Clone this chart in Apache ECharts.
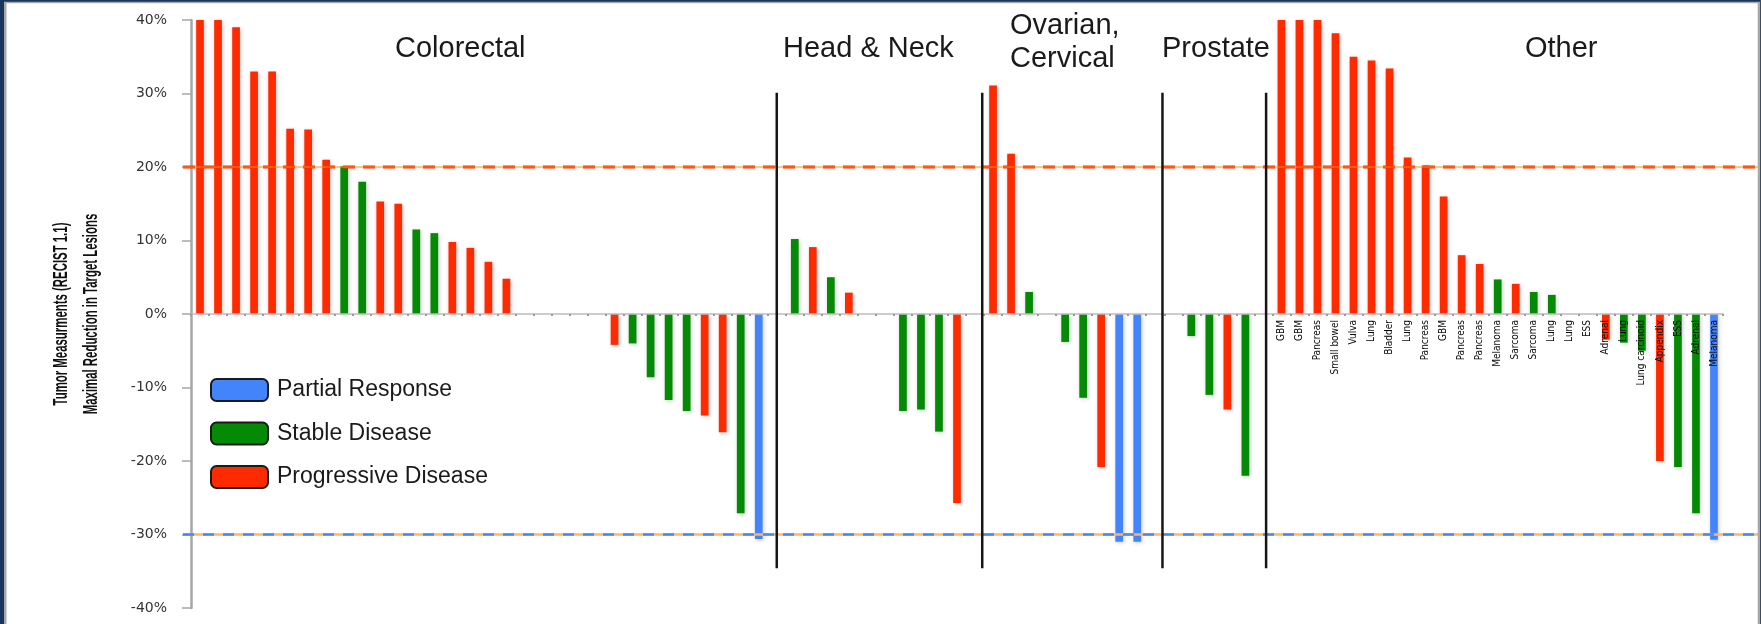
<!DOCTYPE html>
<html>
<head>
<meta charset="utf-8">
<script src="https://cdn.jsdelivr.net/npm/echarts@6/dist/echarts.min.js"></script>
<style>
html,body{margin:0;padding:0;background:#fff;}
#chart{width:1761px;height:624px;}
</style>
</head>
<body>
<div id="chart"></div>
<script>
// ---- Data (percent change in target lesions) ----
// Response codes: R = Progressive Disease, S = Stable Disease, P = Partial Response, '-' = empty slot
const colorectalValues = [40, 40, 39, 33, 33, 25.2, 25.1, 21, 20.1, 18, 15.3, 15, 11.5, 11, 9.8, 9, 7.1, 4.8,
  null, null, null, null, null,
  -4.2, -4.0, -8.6, -11.7, -13.2, -13.8, -16.1, -27.1, -30.6];
const colorectalResponse = 'RRRRRRRRSSRRSSRRRR-----RSSSSRRSP';

const headNeckValues = [10.2, 9.1, 5.0, 2.9, null, null, -13.2, -13.0, -16.0, -25.7];
const headNeckResponse = 'SRSR--SSSR';

const ovarianValues = [31.1, 21.8, 3.0, null, -3.8, -11.4, -20.8, -31.0, -31.0];
const ovarianResponse = 'RRS-SSRPP';

const prostateValues = [-3.0, -11.0, -13.0, -22.0];
const prostateResponse = 'SSRS';

const otherCategories = ['GBM', 'GBM', 'Pancreas', 'Small bowel', 'Vulva', 'Lung', 'Bladder', 'Lung', 'Pancreas', 'GBM',
  'Pancreas', 'Pancreas', 'Melanoma', 'Sarcoma', 'Sarcoma', 'Lung', 'Lung', 'ESS', 'Adrenal', 'Lung',
  'Lung carcinoid', 'Appendix', 'ESS', 'Adrenal', 'Melanoma'];
const otherValues = [40, 40, 40, 38.2, 35.0, 34.5, 33.4, 21.3, 20.2, 16.0,
  8.0, 6.8, 4.7, 4.1, 3.0, 2.6, 0, 0, -3.5, -3.9,
  -5.0, -20.0, -20.8, -27.1, -30.7];
const otherResponse = 'RRRRRRRRRRRRSRSS--RSSRSSP';

const groupTitles = ['Colorectal', 'Head & Neck', 'Ovarian,\nCervical', 'Prostate', 'Other'];
const yTicks = [-40, -30, -20, -10, 0, 10, 20, 30, 40];
const yAxisTitle = ['Tumor Measurments (RECIST 1.1)', 'Maximal Reduction in Target Lesions'];
const thresholds = { progression: 20, response: -30 };
const seriesNames = ['Partial Response', 'Stable Disease', 'Progressive Disease'];
const seriesCodes = ['P', 'S', 'R'];

// ---- Build the full category axis (separator slots between groups) ----
const emptyLabels = n => new Array(n).fill('');
const values = [].concat(colorectalValues, [null], headNeckValues, [null], ovarianValues, [null, null], prostateValues, [null], otherValues);
const responses = (colorectalResponse + '-' + headNeckResponse + '-' + ovarianResponse + '--' + prostateResponse + '-' + otherResponse).split('');
const categories = [].concat(emptyLabels(values.length - otherValues.length), otherCategories);

// ---- Layout / style ----
const colors = { P: '#4484fa', S: '#048a04', R: '#ff2a00' };
const dividerAt = [32, 43.4, 53.4, 59.15];   // positions on the category scale
const dividerSpan = [30.1, -34.6];             // vertical extent in axis units
const gridTop = 20, gridBottom = 16, H = 624, W = 1761;
const zeroOffset = -(H - gridTop - gridBottom) / 2;  // moves the category axis up to the 0% line

const chart = echarts.init(document.getElementById('chart'), null, { renderer: 'canvas' });

const narrow = "'Liberation Sans Narrow', 'DejaVu Sans Condensed', 'Liberation Sans', sans-serif";
const sans = "'Liberation Sans', Arial, sans-serif";

const titles = [
  { text: groupTitles[0], left: 395, top: 32 },
  { text: groupTitles[1], left: 783, top: 32 },
  { text: groupTitles[2], left: 1010, top: 9 },
  { text: groupTitles[3], left: 1162, top: 32 },
  { text: groupTitles[4], left: 1525, top: 32 }
].map(t => Object.assign(t, {
  padding: 0,
  textStyle: { fontFamily: sans, fontSize: 29, fontWeight: 'normal', color: '#1a1a1a', lineHeight: 33 }
}));

const series = seriesNames.map((name, k) => ({
  name: name,
  type: 'bar',
  xAxisIndex: 0,
  yAxisIndex: 0,
  barWidth: 7.7,
  barGap: '-100%',
  itemStyle: {
    color: colors[seriesCodes[k]],
    shadowBlur: 4,
    shadowColor: 'rgba(0,0,0,0.22)',
    shadowOffsetX: 1,
    shadowOffsetY: 1
  },
  emphasis: { disabled: true },
  data: values.map((v, i) => responses[i] === seriesCodes[k] ? v : null)
}));

series.push({
  type: 'scatter', xAxisIndex: 1, yAxisIndex: 0, symbolSize: 0, silent: true,
  data: [[0, 0]]
});

chart.setOption({
  animation: false,
  backgroundColor: '#ffffff',
  title: titles,
  grid: { left: 191, right: 38, top: gridTop, bottom: gridBottom, containLabel: false, outerBoundsMode: 'none' },
  legend: {
    orient: 'vertical',
    left: 210,
    top: 378,
    padding: 0,
    itemWidth: 57,
    itemHeight: 22,
    itemGap: 19.5,
    icon: 'roundRect',
    itemStyle: { borderColor: '#1a1a1a', borderWidth: 2 },
    textStyle: { fontFamily: sans, fontSize: 23, color: '#1a1a1a', padding: [0, 0, 0, 4] },
    data: seriesNames
  },
  xAxis: [{
    type: 'category',
    data: categories,
    offset: zeroOffset,
    z: 10,
    axisLine: { onZero: false, lineStyle: { color: '#bdbdbd', width: 1.7 } },
    axisTick: { show: true, interval: 0, length: 2, lineStyle: { color: '#9a9a9a', width: 2 } },
    axisLabel: { interval: 0, rotate: 90, margin: 6, fontFamily: narrow, fontSize: 10, color: '#0a0a0a' },
    splitLine: { show: false }
  }, {
    type: 'value', min: -0.5, max: values.length - 0.5, show: false
  }],
  yAxis: {
    type: 'value',
    min: yTicks[0],
    max: yTicks[yTicks.length - 1],
    interval: 10,
    axisLine: { show: true, onZero: false, lineStyle: { color: '#a6a6a6', width: 2.5 } },
    axisTick: { show: true, length: 9, lineStyle: { color: '#a6a6a6', width: 1.5 } },
    axisLabel: { formatter: '{value}%', margin: 24, fontFamily: "'DejaVu Sans', sans-serif", fontSize: 14, color: '#333' },
    splitLine: { show: false }
  },
  series: series
});

// ---- Decorations positioned through the axes ----
const px = v => chart.convertToPixel({ xAxisIndex: 1 }, v);
const py = v => chart.convertToPixel({ yAxisIndex: 0 }, v);
const xStart = px(-0.5) - 8;
const yProg = py(thresholds.progression);
const yResp = py(thresholds.response);
const yMid = (py(yTicks[0]) + py(yTicks[yTicks.length - 1])) / 2;

const graphics = [];
graphics.push({ type: 'line', z: 50, shape: { x1: xStart, y1: yProg, x2: W, y2: yProg }, style: { stroke: '#ff2a00', lineWidth: 3, lineDash: [12, 8] } });
graphics.push({ type: 'line', z: 51, shape: { x1: xStart, y1: yProg, x2: W, y2: yProg }, style: { stroke: '#ff8a12', lineWidth: 1 } });
graphics.push({ type: 'line', z: 50, shape: { x1: xStart, y1: yResp, x2: W, y2: yResp }, style: { stroke: '#ffb46e', lineWidth: 2.7 } });
graphics.push({ type: 'line', z: 51, shape: { x1: xStart, y1: yResp, x2: W, y2: yResp }, style: { stroke: '#4a86f0', lineWidth: 2.7, lineDash: [11, 9] } });
dividerAt.forEach(d => {
  graphics.push({ type: 'line', z: 52, shape: { x1: px(d), y1: py(dividerSpan[0]), x2: px(d), y2: py(dividerSpan[1]) }, style: { stroke: '#151515', lineWidth: 2.5 } });
});
// y-axis title (two lines, condensed bold)
[61.5, 91.5].forEach((cx, i) => {
  graphics.push({
    type: 'text', z: 40, x: cx, y: yMid, rotation: Math.PI / 2, scaleX: 0.57, scaleY: 1,
    style: { text: yAxisTitle[i], font: 'bold 20px "Liberation Sans", Arial, sans-serif', fill: '#111', textAlign: 'center', textVerticalAlign: 'middle' }
  });
});
// frame
graphics.push({ type: 'rect', z: 60, shape: { x: 0, y: 0, width: 6.5, height: H }, style: { fill: '#a8a8a8' } });
graphics.push({ type: 'rect', z: 61, shape: { x: 0, y: 0, width: 4, height: H }, style: { fill: '#17365d' } });
graphics.push({ type: 'rect', z: 60, shape: { x: 0, y: 0, width: W, height: 3.3 }, style: { fill: '#a8a8a8' } });
graphics.push({ type: 'rect', z: 61, shape: { x: 0, y: 0, width: W, height: 1.7 }, style: { fill: '#17365d' } });
graphics.push({ type: 'rect', z: 60, shape: { x: W - 3.3, y: 0, width: 3.3, height: H }, style: { fill: '#a8a8a8' } });
graphics.push({ type: 'rect', z: 61, shape: { x: W - 1, y: 0, width: 1, height: H }, style: { fill: '#3a4d66' } });

chart.setOption({ graphic: graphics });
</script>
</body>
</html>
